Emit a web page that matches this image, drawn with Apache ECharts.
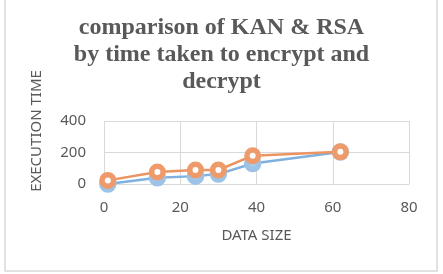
<!DOCTYPE html>
<html>
<head>
<meta charset="utf-8">
<script src="https://cdn.jsdelivr.net/npm/echarts@6/dist/echarts.min.js"></script>
<style>
  html, body { margin: 0; padding: 0; background: #fff; }
  #main { width: 443px; height: 274px; }
</style>
</head>
<body>
<div id="main"></div>
<script>
// data
var dataSize = [1, 14, 24, 30, 39, 62];
var kanTime = [0, 40, 50, 63, 130, 203];
var rsaTime = [23, 76, 89, 89, 180, 204];
var xTicks = [0, 20, 40, 60, 80];
var yTicks = [0, 200, 400];

var chart = echarts.init(document.getElementById('main'), null, { renderer: 'canvas' });

function pairs(xs, ys) {
  return xs.map(function (x, i) { return [x, ys[i]]; });
}

var labelFont = { color: '#595959', fontSize: 15, fontFamily: 'Noto Sans' };

var option = {
  animation: false,
  backgroundColor: '#fff',
  title: {
    text: 'comparison of KAN & RSA\nby time taken to encrypt and\ndecrypt',
    left: 'center',
    top: 14,
    padding: 0,
    textStyle: {
      fontFamily: 'Liberation Serif',
      fontWeight: 'bold',
      fontSize: 24,
      lineHeight: 27,
      color: '#595959'
    }
  },
  grid: { left: 104, right: 34, top: 121, bottom: 90 },
  xAxis: {
    type: 'value',
    min: xTicks[0],
    max: xTicks[xTicks.length - 1],
    interval: 20,
    name: 'DATA SIZE',
    nameLocation: 'middle',
    nameGap: 44,
    nameTextStyle: labelFont,
    axisLine: { show: true, lineStyle: { color: '#d9d9d9' } },
    axisTick: { show: false },
    axisLabel: Object.assign({ margin: 16 }, labelFont),
    splitLine: { show: true, lineStyle: { color: '#d9d9d9' } }
  },
  yAxis: {
    type: 'value',
    min: yTicks[0],
    max: yTicks[yTicks.length - 1],
    interval: 200,
    axisLine: { show: false },
    axisTick: { show: false },
    axisLabel: Object.assign({ margin: 18 }, labelFont),
    splitLine: { show: true, lineStyle: { color: '#d9d9d9' } }
  },
  graphic: [
    {
      type: 'rect',
      shape: { x: 5, y: -2, width: 432, height: 273 },
      style: { fill: 'none', stroke: '#d9d9d9', lineWidth: 1.5 },
      silent: true
    },
    {
      type: 'text',
      x: 37,
      y: 131,
      rotation: Math.PI / 2,
      style: {
        text: 'EXECUTION TIME',
        fill: '#595959',
        font: '15px "Noto Sans"',
        textAlign: 'center',
        textVerticalAlign: 'middle'
      }
    }
  ],
  series: [
    {
      name: 'KAN',
      type: 'line',
      data: pairs(dataSize, kanTime),
      symbol: 'circle',
      symbolSize: 12,
      lineStyle: { color: '#7FB0DE', width: 2.5 },
      itemStyle: { color: '#A9CBEA', borderColor: '#9DC3E6', borderWidth: 5.5 },
      z: 2
    },
    {
      name: 'RSA',
      type: 'line',
      data: pairs(dataSize, rsaTime),
      symbol: 'circle',
      symbolSize: 11.5,
      lineStyle: { color: '#EC9461', width: 2.5 },
      itemStyle: { color: '#fff', borderColor: '#EE9A6A', borderWidth: 5.5 },
      z: 3
    }
  ]
};

chart.setOption(option);
</script>
</body>
</html>
